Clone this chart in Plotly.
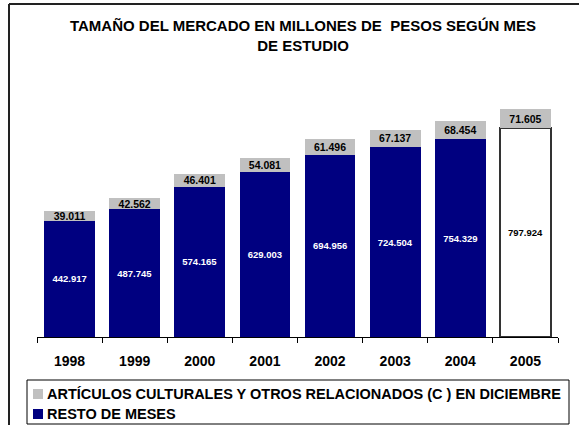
import plotly.graph_objects as go

# ------------------ data ------------------
years = ['1998', '1999', '2000', '2001', '2002', '2003', '2004', '2005']
resto_meses = [442.917, 487.745, 574.165, 629.003, 694.956, 724.504, 754.329, 797.924]
diciembre = [39.011, 42.562, 46.401, 54.081, 61.496, 67.137, 68.454, 71.605]

title_text = '<b>TAMAÑO DEL MERCADO EN MILLONES DE  PESOS SEGÚN MES<br>DE ESTUDIO</b>'
name_dic = '<b>ARTÍCULOS CULTURALES Y OTROS RELACIONADOS (C ) EN DICIEMBRE</b>'
name_resto = '<b>RESTO DE MESES</b>'

# ------------------ styles ------------------
navy = '#000080'
gray = '#C0C0C0'
font = 'Liberation Sans, Arial, sans-serif'

# last year is projected: white bar with outline
resto_colors = [navy] * 7 + ['#FFFFFF']
resto_line = [navy] * 7 + ['#333333']
resto_line_w = [0] * 7 + [1.5]
resto_text_col = ['#FFFFFF'] * 7 + ['#000000']

W, H = 579, 425
L, R, T, B = 37, 21, 60, 88
plot_w = W - L - R
plot_h = H - T - B


def px_x(px):
    # pixel column -> paper x
    return (px - L) / plot_w


def px_y(py):
    # pixel row -> paper y
    return (H - B - py) / plot_h


trace_resto = go.Bar(x=years,
                     y=resto_meses,
                     name=name_resto,
                     showlegend=False,
                     marker=dict(color=resto_colors,
                                 line=dict(color=resto_line, width=resto_line_w)),
                     texttemplate='<b>%{y:.3f}</b>',
                     textposition='inside',
                     insidetextanchor='middle',
                     constraintext='none',
                     textangle=0,
                     textfont=dict(family=font, size=9.5, color=resto_text_col),
                     hoverinfo='skip')

trace_dic = go.Bar(x=years,
                   y=diciembre,
                   name=name_dic,
                   showlegend=False,
                   marker=dict(color=gray, line=dict(width=0)),
                   texttemplate='<b>%{y:.3f}</b>',
                   textposition='inside',
                   insidetextanchor='middle',
                   constraintext='none',
                   textangle=0,
                   textfont=dict(family=font, size=10.5, color='#000000'),
                   hoverinfo='skip')

fig = go.Figure([trace_resto, trace_dic])

# frame around chart (left + top edges only visible)
shapes = [dict(type='line', xref='paper', yref='paper',
               x0=px_x(9), x1=px_x(9), y0=px_y(H + 5), y1=px_y(4),
               line=dict(color='#222222', width=2)),
          dict(type='line', xref='paper', yref='paper',
               x0=px_x(9), x1=px_x(W + 5), y0=px_y(4), y1=px_y(4),
               line=dict(color='#222222', width=2)),
          # legend box
          dict(type='rect', xref='paper', yref='paper',
               x0=px_x(27), x1=px_x(569), y0=px_y(424), y1=px_y(380),
               line=dict(color='#000000', width=1), fillcolor='white', layer='below')]

annotations = []
for name, col, row_y in [(name_dic, gray, 394), (name_resto, navy, 414)]:
    shapes.append(dict(type='rect', xref='paper', yref='paper',
                       x0=px_x(33), x1=px_x(43), y0=px_y(row_y + 5), y1=px_y(row_y - 5),
                       line=dict(width=0), fillcolor=col))
    annotations.append(dict(text=name, xref='paper', yref='paper',
                            x=px_x(45), y=px_y(row_y), xanchor='left', yanchor='middle',
                            showarrow=False,
                            font=dict(family=font, size=14.5, color='#000000')))

fig.update_layout(width=W,
                  height=H,
                  margin=dict(l=L, r=R, t=T, b=B, pad=0, autoexpand=False),
                  paper_bgcolor='white',
                  plot_bgcolor='white',
                  barmode='stack',
                  bargap=0.22,
                  title=dict(text=title_text,
                             x=303 / W,
                             xanchor='center',
                             y=1 - 31 / H,
                             yanchor='top',
                             font=dict(family=font, size=15, color='#000000')),
                  showlegend=False,
                  xaxis=dict(type='category',
                             showline=True,
                             linecolor='#000000',
                             linewidth=1,
                             ticks='outside',
                             tickson='boundaries',
                             ticklen=5,
                             tickcolor='#000000',
                             ticklabelstandoff=11,
                             tickfont=dict(family=font, size=14, color='#000000'),
                             tickprefix='<b>', ticksuffix='</b>',
                             showgrid=False,
                             zeroline=False),
                  yaxis=dict(visible=False,
                             range=[0, plot_h / 0.262],
                             showgrid=False,
                             zeroline=False),
                  shapes=shapes,
                  annotations=annotations)

# drop the default page margin so the figure sits at the window's corner
fig.write_html("out.html",
               config={'displayModeBar': False},
               post_script="document.body.style.margin = '0';")
